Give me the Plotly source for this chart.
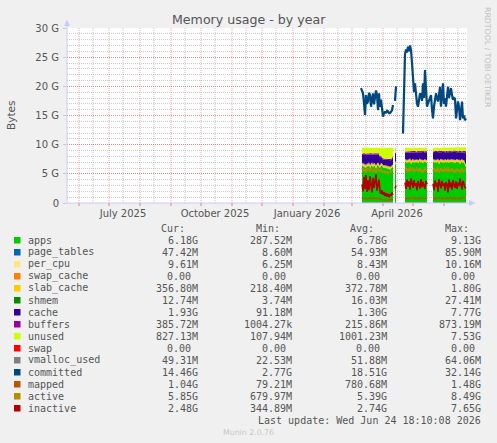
import pandas as pd
import plotly.graph_objects as go

N = None
# ---------------- data (values in GiB, one per day from 2026-03-10) ----------------
START_DATE = "2026-03-10"

APPS = [N,
    6.3, 6.6, 6.1, 6.4, 5.9, 6.5, 6.2, 6.7, 6.0, 6.4, 6.6, 6.1, 6.5, 6.3, 5.9, 6.4,
    6.6, 6.2, 6.0, 6.5, 6.3, 6.1, 6.0, 6.2, 5.9, 6.1, 5.8, 6.0, 5.7, 5.9, 6.0, 6.2,
    N, 6.8, 6.5, N, N, N, N, N, N, N, N,
    7.0, 7.2, 6.8, 7.1, 6.9, 7.3, 6.7, 7.0, 7.2, 6.8, 7.1, 6.9, 7.2, 6.8, 7.0, 7.3,
    6.9, 7.1, 6.8, 7.0, 7.2, 6.9, 7.0,
    N, N, N, N, N,
    7.0, 7.2, 6.8, 7.1, 6.9, 7.3, 6.7, 7.0, 7.2, 6.9, 7.1, 6.8, 7.2, 7.0, 6.9, 7.3,
    6.8, 7.1, 7.0, 7.2, 6.9, 7.1, 6.8, 7.0, 7.2, 6.9, 7.1, 6.7, 7.0, 7.2, 6.8, 7.0,
    6.5, 6.18]

SLAB_CACHE = [N,
    .40, .35, .45, .38, .50, .36, .42, .35, .48, .40, .37, .45, .38, .42, .50, .39,
    .36, .44, .40, .38, .36, .40, .38, .35, .40, .37, .42, .38, .45, .40, .38, .40,
    N, .40, .38, N, N, N, N, N, N, N, N,
    .40, .35, .45, .38, .50, .36, .55, .40, .37, .45, .40, .42, .36, .48, .40, .35,
    .45, .38, .50, .40, .36, .44, .40,
    N, N, N, N, N,
    .40, .36, .50, .38, .45, .35, .55, .40, .37, .46, .39, .48, .36, .42, .45, .35,
    .50, .38, .42, .36, .47, .40, .52, .40, .37, .45, .38, .55, .40, .36, .48, .40,
    .38, .36]

CACHE = [N,
    1.55, 1.30, 1.80, 1.45, 1.90, 1.40, 1.75, 1.20, 1.85, 1.50, 1.30, 1.70, 1.45, 1.60, 1.95, 1.50,
    1.35, 1.65, 1.40, 1.10, 1.00, 0.95, 1.05, 0.90, 1.10, 0.95, 1.15, 1.00, 1.25, 1.05, 1.20, 1.35,
    N, 1.20, 1.50, N, N, N, N, N, N, N, N,
    1.25, 1.10, 1.40, 1.20, 1.30, 1.05, 1.45, 1.25, 1.15, 1.50, 1.20, 1.35, 1.10, 1.45, 1.25, 1.05,
    1.40, 1.20, 1.50, 1.30, 1.10, 1.40, 1.25,
    N, N, N, N, N,
    1.30, 1.10, 1.45, 1.25, 1.35, 1.05, 1.50, 1.30, 1.15, 1.40, 1.20, 1.50, 1.10, 1.30, 1.40, 1.00,
    1.45, 1.20, 1.35, 1.10, 1.45, 1.25, 1.50, 1.30, 1.15, 1.40, 1.20, 1.55, 1.30, 1.10, 1.45, 1.30,
    1.70, 1.93]

BUFFERS = [N,
    .20, .18, .25, .20, .22, .19, .21, .18, .24, .20, .19, .23, .20, .21, .25, .20,
    .18, .22, .20, .18, .17, .18, .17, .16, .18, .17, .18, .17, .19, .18, .18, .20,
    N, .20, .22, N, N, N, N, N, N, N, N,
    .20, .19, .22, .20, .21, .18, .22, .20, .19, .22, .20, .21, .19, .22, .20, .18,
    .21, .20, .22, .20, .19, .21, .20,
    N, N, N, N, N,
    .20, .19, .22, .20, .21, .18, .23, .20, .19, .22, .20, .22, .19, .21, .22, .18,
    .23, .20, .21, .19, .22, .20, .23, .20, .19, .21, .20, .23, .20, .19, .22, .20,
    .30, .39]

UNUSED = [N,
    1.03, 1.05, 0.88, 1.05, 0.96, 1.03, 0.90, 1.05, 0.91, 0.98, 1.02, 1.00, 0.95, 0.95, 0.88, 0.99,
    0.99, 0.97, 1.48, 1.32, 1.65, 1.85, 1.88, 1.87, 1.90, 1.89, 1.93, 1.93, 1.89, 1.95, 1.72, 1.33,
    N, 0.88, 0.88, N, N, N, N, N, N, N, N,
    .63, .64, .61, .60, .57, .59, .56, .63, .57, .51, .58, .60, .63, .53, .63, .60,
    .52, .60, .46, .58, .63, .53, .63,
    N, N, N, N, N,
    .58, .63, .51, .55, .57, .60, .50, .58, .57, .50, .59, .48, .63, .55, .51, .65,
    .50, .60, .50, .63, .44, .53, .43, .58, .57, .52, .60, .45, .58, .63, .53, .58,
    .60, .70]

ACTIVE = [N,
    5.6, 6.0, 5.3, 5.8, 5.2, 6.1, 5.5, 5.9, 5.4, 6.0, 5.7, 5.3, 5.9, 5.6, 5.2, 5.8,
    6.0, 5.5, 5.6, 5.8, 5.4, 5.3, 5.5, 5.2, 5.4, 5.3, 5.1, 5.3, 5.2, 5.4, 5.5, 5.7,
    N, 5.8, 5.6, N, N, N, N, N, N, N, N,
    5.6, 6.1, 5.4, 5.9, 5.3, 6.2, 5.5, 5.8, 6.0, 5.3, 5.7, 5.5, 6.1, 5.4, 5.8, 6.0,
    5.3, 5.7, 5.2, 5.9, 6.1, 5.4, 5.7,
    N, N, N, N, N,
    5.5, 6.0, 5.3, 5.8, 5.4, 6.2, 5.2, 5.7, 6.0, 5.4, 5.8, 5.3, 6.1, 5.6, 5.4, 6.2,
    5.3, 5.8, 5.5, 6.0, 5.3, 5.7, 5.2, 5.6, 5.9, 5.4, 5.7, 5.1, 5.6, 6.0, 5.3, 5.6,
    5.7, 5.85]

INACTIVE = [N,
    3.2, 2.0, 4.5, 2.4, 4.8, 1.9, 3.9, 2.2, 4.6, 3.0, 1.8, 4.3, 2.6, 3.6, 4.9, 2.1,
    2.8, 4.0, 2.0, 1.6, 2.2, 1.4, 1.9, 1.2, 1.7, 1.1, 1.6, 1.0, 1.5, 1.2, 1.8, 1.4,
    N, 2.5, 3.0, N, N, N, N, N, N, N, N,
    3.5, 2.4, 4.0, 2.8, 3.7, 2.3, 4.2, 3.0, 2.6, 3.9, 2.9, 3.4, 2.2, 3.8, 3.1, 2.5,
    4.1, 2.7, 3.6, 3.0, 2.4, 3.8, 3.2,
    N, N, N, N, N,
    3.3, 2.2, 3.9, 2.8, 3.5, 1.9, 4.1, 3.0, 2.5, 3.8, 2.9, 3.4, 2.1, 3.6, 3.2, 1.8,
    4.0, 2.7, 3.5, 2.3, 3.9, 3.1, 2.6, 3.7, 2.4, 3.5, 2.9, 4.2, 3.1, 2.3, 3.8, 3.0,
    2.7, 2.48]

MAPPED = [N,
    .75, .85, .70, .90, .80, .65, .85, .75, .90, .70, .80, .85, .70, .90, .75, .80,
    .85, .70, .80, .60, .55, .50, .60, .45, .55, .50, .45, .55, .50, .60, .55, .65,
    N, .70, .75, N, N, N, N, N, N, N, N,
    .80, .70, .90, .75, .85, .70, .95, .80, .75, .90, .70, .85, .80, .75, .90, .70,
    .85, .80, .95, .75, .80, .85, .75,
    N, N, N, N, N,
    .80, .75, .90, .70, .85, .80, .95, .75, .80, .90, .70, .85, .80, .75, .90, .70,
    .85, .80, .95, .75, .80, .90, .70, .85, .80, .75, .90, .70, .85, .80, .95, .85,
    .95, 1.04]

VMALLOC_USED = [N,
    .050, .051, .052, .050, .053, .051, .050, .052, .051, .053, .050, .052, .051, .050, .053, .052,
    .051, .050, .052, .051, .050, .049, .050, .051, .050, .049, .050, .051, .050, .049, .050, .051,
    N, .050, .051, N, N, N, N, N, N, N, N,
    .052, .051, .053, .050, .052, .051, .054, .052, .050, .053, .051, .052, .050, .053, .051, .052,
    .050, .053, .051, .052, .050, .051, .052,
    N, N, N, N, N,
    .051, .052, .050, .053, .051, .052, .050, .053, .051, .052, .050, .051, .053, .050, .052, .051,
    .053, .050, .052, .051, .050, .052, .051, .053, .050, .052, .051, .050, .052, .051, .050, .049,
    .050, .049]

COMMITTED = [19.7,
    19.2, 18.8, 17.1, 15.1, 18.5, 17.0, 17.4, 18.9, 18.5, 16.5, 17.8, 18.8, 16.9, 18.0, 19.3, 18.5,
    15.9, 18.8, 16.5, 17.7, 16.2, 14.8, 15.3, 15.7, 15.4, 15.8, 15.7, 15.4, 15.4, 15.7, 15.9, 16.8,
    N, 17.5, 20.0, N, N, N, N, N, N, 11.9, 21.1,
    25.5, 26.3, 25.8, 26.8, 26.0, 27.0, 26.2, 24.0, 22.0, 19.0, 20.5, 18.5, 17.0, 16.5, 18.0, 18.8,
    18.5, 17.5, 20.5, 18.0, 22.8, 18.8, 16.5,
    17.1, 17.5, 18.2, 18.5, 16.0,
    14.5, 16.5, 18.2, 18.8, 18.0, 17.4, 18.5, 19.9, 16.5, 18.0, 20.5, 17.0, 18.0, 16.5, 18.5, 19.9,
    18.0, 18.8, 19.7, 18.5, 17.7, 18.0, 17.9, 14.5, 16.0, 17.4, 16.5, 14.2, 15.5, 17.4, 14.5, 15.0,
    14.2, 14.5]

Y_TICK_VALUES = [0, 5, 10, 15, 20, 25, 30]
Y_TICK_LABELS = ["0", "5 G", "10 G", "15 G", "20 G", "25 G", "30 G"]
X_TICK_DATES = ["2025-07-15", "2025-10-15", "2026-01-15", "2026-04-15"]
X_TICK_LABELS = ["July 2025", "October 2025", "January 2026", "April 2026"]
X_RANGE = ["2025-05-20", "2026-06-24"]

LEGEND_NAMES = ["apps", "page_tables", "per_cpu", "swap_cache", "slab_cache", "shmem",
                "cache", "buffers", "unused", "swap", "vmalloc_used", "committed",
                "mapped", "active", "inactive"]
LEGEND_CUR = ["6.18G", "47.42M", "9.61M", "0.00", "356.80M", "12.74M", "1.93G", "385.72M",
              "827.13M", "0.00", "49.31M", "14.46G", "1.04G", "5.85G", "2.48G"]
LEGEND_MIN = ["287.52M", "8.60M", "6.25M", "0.00", "218.40M", "3.74M", "91.18M", "1004.27k",
              "107.94M", "0.00", "22.53M", "2.77G", "79.21M", "679.97M", "344.89M"]
LEGEND_AVG = ["6.78G", "54.93M", "8.43M", "0.00", "372.78M", "16.03M", "1.30G", "215.86M",
              "1001.23M", "0.00", "51.88M", "18.51G", "780.68M", "5.39G", "2.74G"]
LEGEND_MAX = ["9.13G", "85.90M", "10.16M", "0.00", "1.80G", "27.41M", "7.77G", "873.19M",
              "7.53G", "0.00", "64.06M", "32.14G", "1.48G", "8.49G", "7.65G"]

# ---------------- styles ----------------
COLORS = {
    "apps": "#00CC00", "page_tables": "#0066B3", "per_cpu": "#FFE680",
    "swap_cache": "#FF8000", "slab_cache": "#FFCC00", "shmem": "#008F00",
    "cache": "#330099", "buffers": "#990099", "unused": "#CCFF00", "swap": "#FF0000",
    "vmalloc_used": "#808080", "committed": "#00487D", "mapped": "#B35A00",
    "active": "#B38F00", "inactive": "#B30000",
}

W, H = 497, 443
L, R, T, B = 67, 30, 28, 240
PW, PH = W - L - R, H - T - B
BOTTOM = H - B


def px(x):
    return (x - L) / PW


def py(y):
    return (BOTTOM - y) / PH


dates = pd.date_range(START_DATE, periods=len(APPS), freq="D")

fig = go.Figure()

# stacked areas, one stack per contiguous block of data
runs = []
start = None
for i, v in enumerate(APPS + [None]):
    if v is not None and start is None:
        start = i
    elif v is None and start is not None:
        runs.append((start, i))
        start = None

stack_series = [("apps", APPS), ("slab_cache", SLAB_CACHE), ("cache", CACHE),
                ("buffers", BUFFERS), ("unused", UNUSED)]
for k, (s, e) in enumerate(runs):
    for name, vals in stack_series:
        fig.add_trace(go.Scatter(
            x=dates[s:e], y=vals[s:e], stackgroup=f"blk{k}", mode="lines",
            line=dict(width=0, color=COLORS[name]), fillcolor=COLORS[name],
            hoverinfo="skip", showlegend=False))

line_series = [("vmalloc_used", VMALLOC_USED, 1.2), ("committed", COMMITTED, 2.2),
               ("mapped", MAPPED, 1.4), ("active", ACTIVE, 1.4), ("inactive", INACTIVE, 1.6)]
for name, vals, w in line_series:
    fig.add_trace(go.Scatter(
        x=dates, y=vals, mode="lines", connectgaps=False,
        line=dict(width=w, color=COLORS[name]), hoverinfo="skip", showlegend=False))

shapes = []
# vertical grid lines (below data)
month_starts = pd.date_range("2025-06-01", "2026-06-01", freq="MS")
half_months = pd.date_range("2025-05-16", "2026-06-16", freq="SMS")
for d in half_months:
    if d.day != 1 and pd.Timestamp(X_RANGE[0]) < d < pd.Timestamp(X_RANGE[1]):
        shapes.append(dict(type="line", layer="below", xref="x", yref="paper",
                           x0=d, x1=d, y0=0, y1=1,
                           line=dict(color="rgba(150,150,150,0.55)", width=1, dash="1px,1px")))
for d in month_starts:
    shapes.append(dict(type="line", layer="below", xref="x", yref="paper",
                       x0=d, x1=d, y0=0, y1=1,
                       line=dict(color="rgba(230,90,90,0.5)", width=1, dash="1px,1px")))
    shapes.append(dict(type="line", layer="above", xref="x", yref="paper",
                       x0=d, x1=d, y0=py(203), y1=py(206),
                       line=dict(color="rgba(230,90,90,0.8)", width=1)))

AXIS_C = "#C8CCF8"
# axes with arrows
shapes.append(dict(type="line", xref="paper", yref="paper", x0=px(66.5), x1=px(471),
                   y0=0, y1=0, line=dict(color=AXIS_C, width=1)))
shapes.append(dict(type="line", xref="paper", yref="paper", x0=px(67), x1=px(67),
                   y0=py(203.5), y1=py(24), line=dict(color=AXIS_C, width=1)))
shapes.append(dict(type="path", xref="paper", yref="paper",
                   path=f"M {px(64)} {py(26)} L {px(67)} {py(19.5)} L {px(70)} {py(26)} Z",
                   fillcolor=AXIS_C, line=dict(width=0)))
shapes.append(dict(type="path", xref="paper", yref="paper",
                   path=f"M {px(469)} {py(200)} L {px(475.5)} {py(203)} L {px(469)} {py(206)} Z",
                   fillcolor=AXIS_C, line=dict(width=0)))

annotations = []
TXT = "#555555"
MONO = "DejaVu Sans Mono"
SANS = "DejaVu Sans"

# title
annotations.append(dict(text="Memory usage - by year", xref="paper", yref="paper",
                        x=px(248.5), y=py(19.5), xanchor="center", yanchor="middle",
                        showarrow=False, font=dict(family=SANS, size=12.6, color=TXT)))
annotations.append(dict(text="Bytes", xref="paper", yref="paper", x=px(11), y=py(115),
                        xanchor="center", yanchor="middle", textangle=-90, showarrow=False,
                        font=dict(family=SANS, size=10.5, color=TXT)))
annotations.append(dict(text="RRDTOOL / TOBI OETIKER", xref="paper", yref="paper",
                        x=px(487.5), y=py(5), xanchor="center", yanchor="top", textangle=90,
                        showarrow=False, font=dict(family=SANS, size=7.8, color="#C0C0C0")))

# legend header
for hdr, xr in zip(["Cur:", "Min:", "Avg:", "Max:"], [187, 281.5, 376, 470.5]):
    annotations.append(dict(text=hdr, xref="paper", yref="paper", x=px(xr), y=py(228),
                            xanchor="right", yanchor="middle", showarrow=False,
                            font=dict(family=MONO, size=10, color=TXT)))

COL_RIGHT = [199.5, 294, 388.5, 483]
for k, name in enumerate(LEGEND_NAMES):
    yrow = 240 + 12 * k
    shapes.append(dict(type="rect", xref="paper", yref="paper",
                       x0=px(14), x1=px(20.5), y0=py(yrow - 3), y1=py(yrow + 3.5),
                       fillcolor=COLORS[name], line=dict(width=0)))
    annotations.append(dict(text=name, xref="paper", yref="paper", x=px(26), y=py(yrow),
                            xanchor="left", yanchor="middle", showarrow=False,
                            font=dict(family=MONO, size=10, color=TXT)))
    for vals, xr in zip([LEGEND_CUR, LEGEND_MIN, LEGEND_AVG, LEGEND_MAX], COL_RIGHT):
        v = vals[k]
        xx = xr if v[-1].isalpha() else xr - 6.02
        annotations.append(dict(text=v, xref="paper", yref="paper", x=px(xx), y=py(yrow),
                                xanchor="right", yanchor="middle", showarrow=False,
                                font=dict(family=MONO, size=10, color=TXT)))

annotations.append(dict(text="Last update: Wed Jun 24 18:10:08 2026", xref="paper",
                        yref="paper", x=px(483), y=py(420), xanchor="right", yanchor="middle",
                        showarrow=False, font=dict(family=MONO, size=10, color=TXT)))
annotations.append(dict(text="Munin 2.0.76", xref="paper", yref="paper", x=px(248), y=py(432.5),
                        xanchor="center", yanchor="middle", showarrow=False,
                        font=dict(family=SANS, size=7.8, color="#C8C8C8")))

fig.update_layout(
    width=W, height=H, margin=dict(l=L, r=R, t=T, b=B, pad=0),
    paper_bgcolor="#F0F0F0", plot_bgcolor="#FFFFFF",
    showlegend=False, shapes=shapes, annotations=annotations,
    xaxis=dict(type="date", range=X_RANGE, tickvals=X_TICK_DATES, ticktext=X_TICK_LABELS,
               showgrid=False, zeroline=False, showline=False, ticks="",
               tickfont=dict(family=SANS, size=10, color=TXT), ticklabelstandoff=3,
               fixedrange=True),
    yaxis=dict(range=[0, 30], tickvals=Y_TICK_VALUES, ticktext=Y_TICK_LABELS,
               showgrid=True, gridcolor="rgba(230,90,90,0.55)", griddash="1px,1px", gridwidth=1,
               minor=dict(dtick=1, showgrid=True, gridcolor="rgba(150,150,150,0.5)",
                          griddash="1px,1px", gridwidth=1),
               zeroline=False, showline=False, ticks="outside", ticklen=3,
               tickcolor="#C8C8C8", tickfont=dict(family=SANS, size=10, color=TXT),
               ticklabelstandoff=2, fixedrange=True),
)

fig.write_html("out.html")
